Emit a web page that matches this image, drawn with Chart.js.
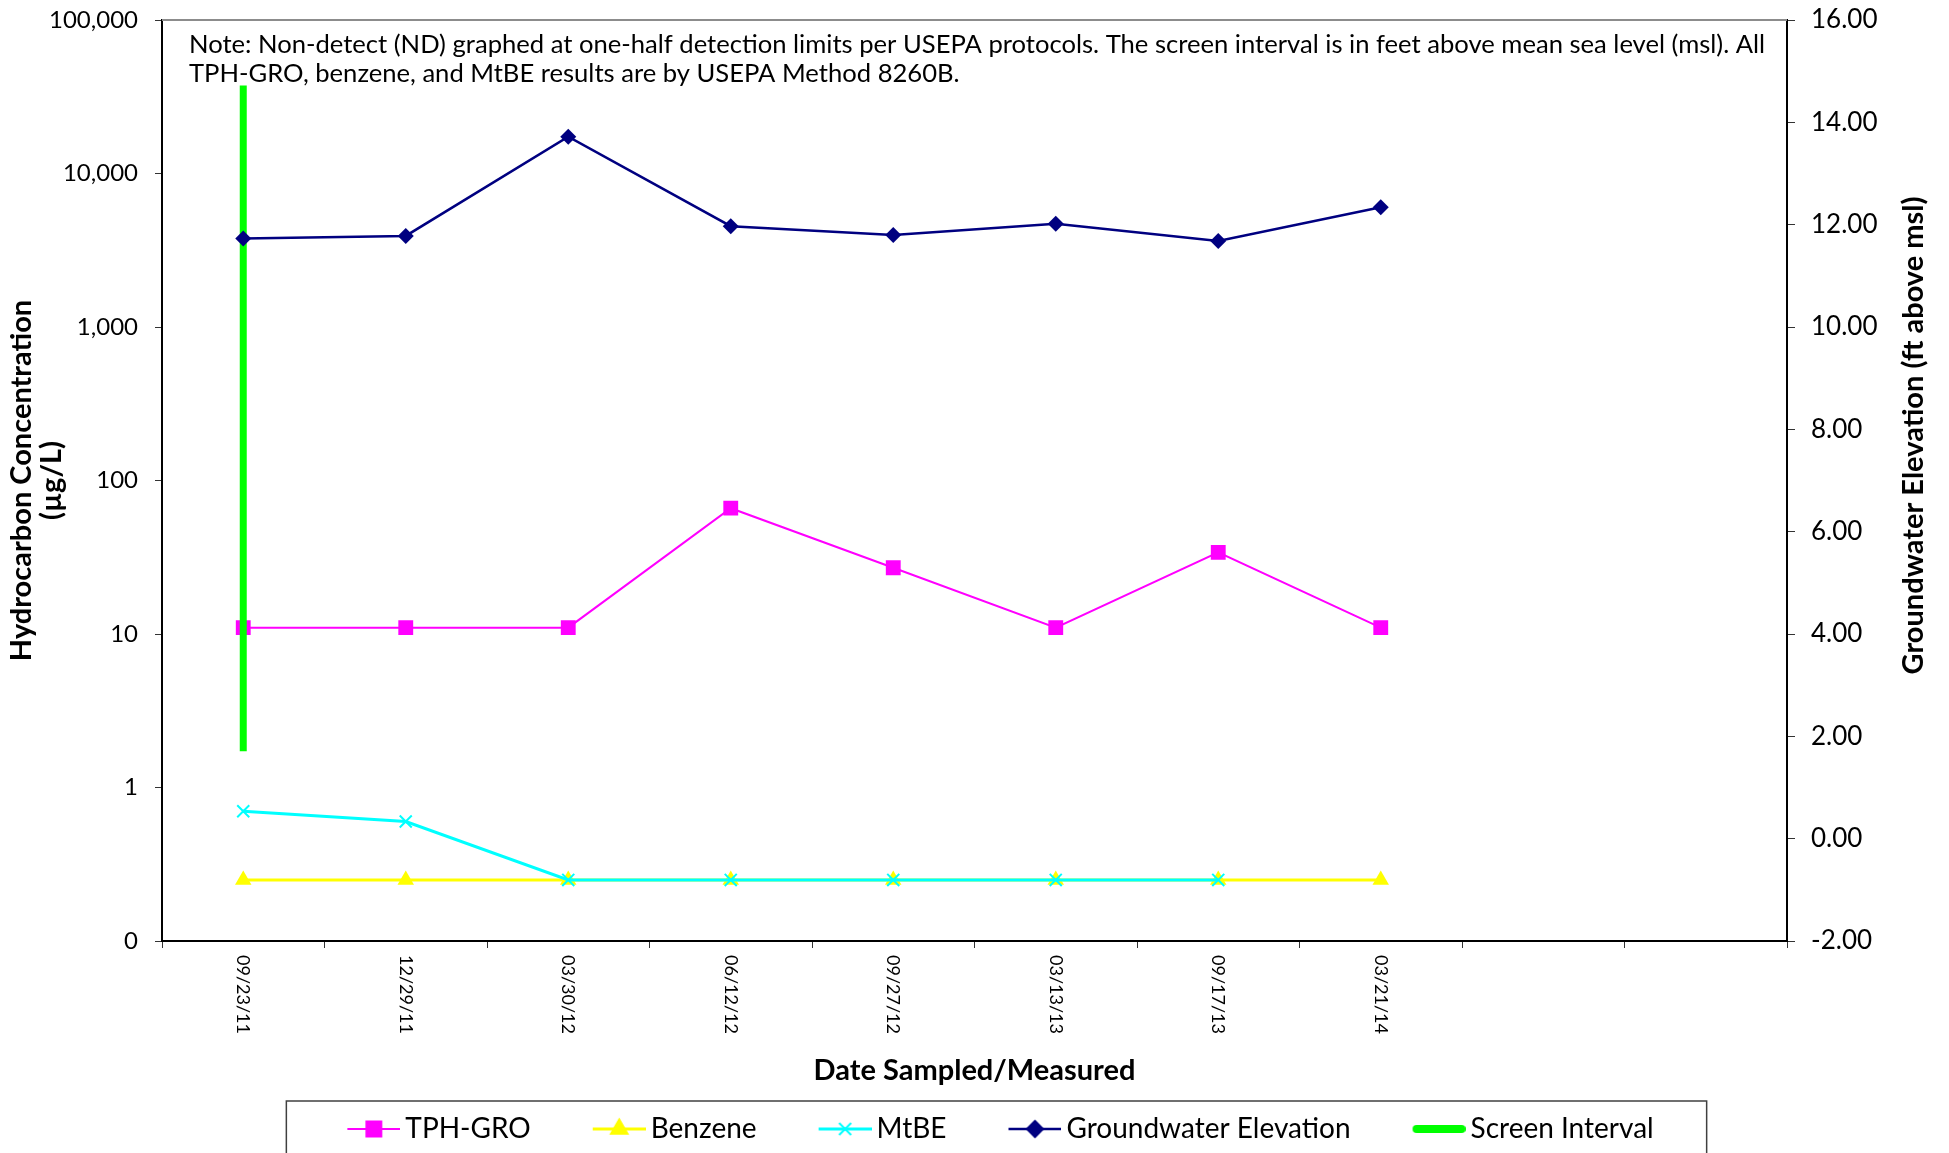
<!DOCTYPE html>
<html lang="en">
<head>
<meta charset="UTF-8">
<title>Hydrocarbon Concentrations and Groundwater Elevation</title>
<script src="https://cdn.jsdelivr.net/npm/chart.js@4.4.1/dist/chart.umd.min.js"></script>
<style>
  html, body { margin: 0; padding: 0; background: #fff; }
  #wrap { width: 1949px; height: 1153px; }
</style>
</head>
<body>
<div id="wrap"><canvas id="chart" width="1949" height="1153"></canvas></div>
<script>
// sampling events (two empty slots keep the axis running past the last date)
const sampleDates = ['09/23/11', '12/29/11', '03/30/12', '06/12/12', '09/27/12', '03/13/13', '09/17/13', '03/21/14', '', ''];

// concentrations, ug/L (non-detects at one-half the detection limit)
const tphGro = [11, 11, 11, 66, 27, 11, 34, 11];
const benzene = [0.25, 0.25, 0.25, 0.25, 0.25, 0.25, 0.25, 0.25];
const mtbe = [0.70, 0.60, 0.25, 0.25, 0.25, 0.25, 0.25, null];

// groundwater elevation, ft above msl
const gwElevation = [11.73, 11.78, 13.72, 11.97, 11.80, 12.02, 11.68, 12.34];

// well screen, top and bottom, ft above msl
const screenInterval = [14.72, 1.71];

const concTicks = [0.1, 1, 10, 100, 1000, 10000, 100000];
const elevTicks = [-2, 0, 2, 4, 6, 8, 10, 12, 14, 16];

const noteLines = [
  'Note: Non-detect (ND) graphed at one-half detection limits per USEPA protocols. The screen interval is in feet above mean sea level (msl). All',
  'TPH-GRO, benzene, and MtBE results are by USEPA Method 8260B.'
];

const FONT = 'Lato, "Open Sans", sans-serif';
Chart.defaults.font.family = FONT;
Chart.defaults.font.size = 24;
Chart.defaults.color = '#000';

// legend sample: short line with the series marker in the middle
function legendIcon(color, lineWidth, marker, radius) {
  const c = document.createElement('canvas');
  c.width = 114; c.height = 28;
  const g = c.getContext('2d');
  g.strokeStyle = color;
  g.fillStyle = color;
  g.lineWidth = lineWidth;
  g.lineCap = marker ? 'butt' : 'round';
  g.beginPath();
  g.moveTo(marker ? 61 : 65, 14);
  g.lineTo(marker ? 114 : 110, 14);
  g.stroke();
  if (marker) {
    g.lineWidth = 2;
    Chart.helpers.drawPoint(g, {pointStyle: marker, radius: radius, rotation: 0, borderWidth: 2}, 87.5, 14);
  }
  return c;
}

const legendIcons = [
  legendIcon('#FF00FF', 2, 'rect', 10.5),
  legendIcon('#FFFF00', 3, 'triangle', 9.5),
  legendIcon('#00FFFF', 3, 'crossRot', 8.5),
  legendIcon('#000080', 2.5, 'rectRot', 8),
  legendIcon('#00FF00', 8, null, 0)
];

// keep the plot frame where the layout padding puts it
const noEdgePadding = s => { s.paddingTop = 0; s.paddingBottom = 0; s.width = 162; };

const extras = {
  id: 'extras',
  afterDraw(chart) {
    const {ctx, chartArea: a, scales} = chart;
    ctx.save();

    // top edge of the plot frame
    ctx.strokeStyle = '#8c8c8c';
    ctx.lineWidth = 2;
    ctx.beginPath();
    ctx.moveTo(a.left, a.top);
    ctx.lineTo(a.right, a.top);
    ctx.stroke();

    // note block
    ctx.fillStyle = '#000';
    ctx.textAlign = 'left';
    ctx.textBaseline = 'middle';
    ctx.font = '25.6px ' + FONT;
    noteLines.forEach((t, i) => ctx.fillText(t, a.left + 27, a.top + 25 + i * 29));

    // date labels, reading downward
    ctx.font = '18px ' + FONT;
    sampleDates.forEach((d, i) => {
      if (!d) return;
      ctx.save();
      ctx.translate(scales.x.getPixelForValue(i), a.bottom + 14);
      ctx.rotate(Math.PI / 2);
      ctx.fillText(d, 0, 0);
      ctx.restore();
    });

    // secondary axis title, reading upward
    ctx.save();
    ctx.font = 'bold 29px ' + FONT;
    ctx.textAlign = 'center';
    ctx.translate(chart.width - 35, (a.top + a.bottom) / 2 - 45);
    ctx.rotate(-Math.PI / 2);
    ctx.fillText('Groundwater Elevation (ft above msl)', 0, 0);
    ctx.restore();

    // legend frame
    const hb = chart.legend.legendHitBoxes;
    if (hb && hb.length) {
      const first = hb[0], last = hb[hb.length - 1];
      const x0 = first.left - 9;
      const x1 = last.left + last.width + 53;
      const y0 = chart.legend.top - 4;
      ctx.strokeStyle = '#404040';
      ctx.lineWidth = 1.5;
      ctx.strokeRect(x0, y0, x1 - x0, chart.height + 10 - y0);
    }
    ctx.restore();
  }
};

new Chart(document.getElementById('chart'), {
  type: 'line',
  data: {
    labels: sampleDates,
    datasets: [
      {
        label: 'TPH-GRO', data: tphGro, yAxisID: 'y', order: 5,
        borderColor: '#FF00FF', backgroundColor: '#FF00FF', borderWidth: 2,
        pointStyle: 'rect', pointRadius: 10.5, pointBorderWidth: 0
      },
      {
        label: 'Benzene', data: benzene, yAxisID: 'y', order: 4,
        borderColor: '#FFFF00', backgroundColor: '#FFFF00', borderWidth: 3,
        pointStyle: 'triangle', pointRadius: 9.5, pointBorderWidth: 0
      },
      {
        label: 'MtBE', data: mtbe, yAxisID: 'y', order: 3,
        borderColor: '#00FFFF', backgroundColor: '#00FFFF', borderWidth: 3,
        pointStyle: 'crossRot', pointRadius: 8.5, pointBorderWidth: 2
      },
      {
        label: 'Groundwater Elevation', data: gwElevation, yAxisID: 'y1', order: 1,
        borderColor: '#000080', backgroundColor: '#000080', borderWidth: 2.5,
        pointStyle: 'rectRot', pointRadius: 8, pointBorderWidth: 0
      },
      {
        label: 'Screen Interval', yAxisID: 'y1', order: 2,
        data: [{x: sampleDates[0], y: screenInterval[0]}, {x: sampleDates[0], y: screenInterval[1]}],
        borderColor: '#00FF00', backgroundColor: '#00FF00', borderWidth: 7,
        pointRadius: 0
      }
    ]
  },
  options: {
    responsive: false,
    animation: false,
    devicePixelRatio: 1,
    layout: { padding: { top: 20, left: 0, right: 0, bottom: 0 } },
    plugins: {
      tooltip: { enabled: false },
      legend: {
        position: 'bottom',
        labels: {
          usePointStyle: true,
          pointStyleWidth: 96,
          padding: 10,
          color: '#000',
          font: { size: 28 },
          generateLabels(chart) {
            const items = Chart.defaults.plugins.legend.labels.generateLabels(chart);
            items.sort((p, q) => p.datasetIndex - q.datasetIndex);
            items.forEach(it => { it.pointStyle = legendIcons[it.datasetIndex]; });
            return items;
          }
        }
      }
    },
    scales: {
      x: {
        type: 'category',
        offset: true,
        grid: { offset: true, drawOnChartArea: false, drawTicks: true, tickLength: 7, color: '#333' },
        border: { color: '#000', width: 2 },
        ticks: { display: false },
        title: {
          display: true, text: 'Date Sampled/Measured',
          font: { size: 29, weight: 'bold' }, padding: { top: 0, bottom: 17 }
        },
        afterFit: s => { s.height = 164; }
      },
      y: {
        type: 'logarithmic',
        position: 'left',
        min: concTicks[0],
        max: concTicks[concTicks.length - 1],
        afterBuildTicks: s => { s.ticks = concTicks.map(v => ({value: v})); },
        grid: { drawOnChartArea: false, tickLength: 7, color: '#333' },
        border: { color: '#000', width: 2 },
        ticks: { padding: 17, callback: v => Math.round(v).toLocaleString('en-US') },
        title: {
          display: true, text: ['Hydrocarbon Concentration', '(µg/L)'],
          font: { size: 29, weight: 'bold', lineHeight: 1.03 }, padding: { top: 7, bottom: 0 }
        },
        afterFit: noEdgePadding
      },
      y1: {
        type: 'linear',
        position: 'right',
        min: elevTicks[0],
        max: elevTicks[elevTicks.length - 1],
        afterBuildTicks: s => { s.ticks = elevTicks.map(v => ({value: v})); },
        grid: { drawOnChartArea: false, tickLength: 8, color: '#333' },
        border: { color: '#000', width: 2 },
        ticks: { padding: 16, font: { size: 26 }, callback: v => v.toFixed(2) },
        afterFit: noEdgePadding
      }
    }
  },
  plugins: [extras]
});
</script>
</body>
</html>
